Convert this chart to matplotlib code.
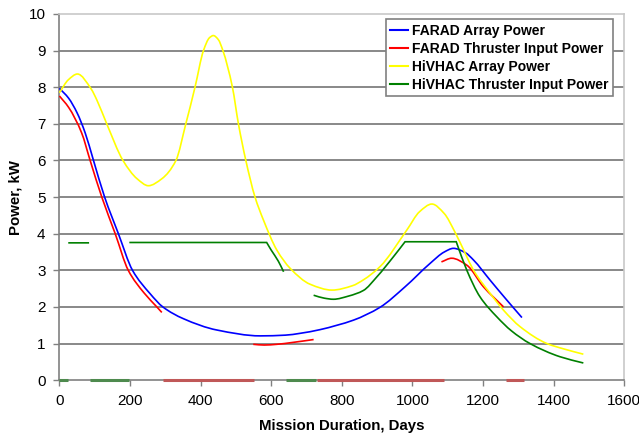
import numpy as np
import matplotlib
matplotlib.use('Agg')
from matplotlib import pyplot as plt
from matplotlib.path import Path
from matplotlib.patches import PathPatch
from matplotlib.lines import Line2D

plt.rcParams['font.family'] = ['Liberation Sans', 'DejaVu Sans']

nan = np.nan

# FARAD array power
farad_array_days = [0, 26, 50, 73, 95, 128, 167, 207, 257, 293, 351, 446, 569, 640,
                    682, 738, 786, 833, 908, 979, 1050, 1090, 1116, 1150, 1173,
                    1220, 1267, 1310]
farad_array_kw = [7.97, 7.7, 7.3, 6.75, 6.05, 5.0, 4.0, 3.0, 2.36, 2.0, 1.68, 1.37,
                  1.21, 1.23, 1.28, 1.38, 1.5, 1.64, 1.99, 2.55, 3.19, 3.5, 3.6,
                  3.48, 3.28, 2.73, 2.19, 1.71]

# FARAD thruster input power (gaps where the thruster is off)
farad_thr_days = [0, 26, 63, 87, 120, 158, 195, 240, 276, 290, nan,
                  549, 580, 616, 660, 720, nan,
                  1082, 1111, 1154, 1201, 1258]
farad_thr_kw = [7.76, 7.45, 6.75, 6.0, 5.0, 4.0, 3.0, 2.38, 2.0, 1.85, nan,
                0.98, 0.96, 0.98, 1.03, 1.11, nan,
                3.23, 3.33, 3.14, 2.55, 2.0]
farad_off = [(293, 552), (729, 1088), (1265, 1316)]

# HiVHAC array power
hivhac_array_days = [0, 25, 51, 90, 106, 134, 180, 220, 252, 290, 330, 358, 384,
                     408, 425, 436, 450, 463, 490, 507, 528, 554, 578, 616, 654,
                     710, 772, 830, 861, 908, 984, 1020, 1055, 1090, 1120, 1150,
                     1173, 1220, 1258, 1305, 1381, 1430, 1484]
hivhac_array_kw = [7.85, 8.2, 8.36, 7.95, 7.65, 7.0, 6.0, 5.5, 5.31, 5.5, 6.0,
                   7.0, 8.0, 9.0, 9.35, 9.41, 9.3, 9.0, 8.0, 7.0, 6.0, 5.0, 4.37,
                   3.55, 3.05, 2.62, 2.46, 2.58, 2.74, 3.1, 4.1, 4.6, 4.81, 4.55,
                   4.05, 3.45, 3.0, 2.37, 1.91, 1.46, 1.0, 0.85, 0.71]

# HiVHAC thruster input power (gaps where the thruster is off)
hivhac_thr_days = [25, 84, nan,
                   198, 587, 600, 620, 635, nan,
                   720, 750, 776, 820, 861, 899, 946, 979, 1124, 1154, 1191,
                   1239, 1280, 1333, 1418, 1484]
hivhac_thr_kw = [3.75, 3.75, nan,
                 3.76, 3.76, 3.55, 3.25, 2.96, nan,
                 2.32, 2.24, 2.21, 2.3, 2.45, 2.82, 3.37, 3.78, 3.78, 3.0, 2.28,
                 1.73, 1.35, 1.0, 0.64, 0.47]
hivhac_off = [(0, 25), (87, 197), (642, 727)]
# points where the throttle plateau ends abruptly
hivhac_corners = [587, 979, 1124]


def smooth_path(xs, ys, corners=()):
    """Monotone cubic (Fritsch-Carlson) curve through the points, as Bezier path.
    NaN splits the series into separate runs."""
    xs = np.asarray(xs, float)
    ys = np.asarray(ys, float)
    verts, codes = [], []
    breaks = np.where(np.isnan(xs))[0]
    starts = np.r_[0, breaks + 1]
    ends = np.r_[breaks, len(xs)]
    for s, e in zip(starts, ends):
        x, y = xs[s:e], ys[s:e]
        n = len(x)
        if n < 2:
            continue
        h = np.diff(x)
        d = np.diff(y) / h
        ml = np.zeros(n)
        mr = np.zeros(n)
        ml[0] = mr[0] = d[0]
        ml[-1] = mr[-1] = d[-1]
        for i in range(1, n - 1):
            if x[i] in corners:
                ml[i], mr[i] = d[i - 1], d[i]
                continue
            if d[i - 1] * d[i] <= 0:
                m = 0.0
            else:
                w1 = 2 * h[i] + h[i - 1]
                w2 = h[i] + 2 * h[i - 1]
                m = (w1 + w2) / (w1 / d[i - 1] + w2 / d[i])
            ml[i] = mr[i] = m
        verts.append((x[0], y[0]))
        codes.append(Path.MOVETO)
        for i in range(n - 1):
            verts += [(x[i] + h[i] / 3, y[i] + mr[i] * h[i] / 3),
                      (x[i + 1] - h[i] / 3, y[i + 1] - ml[i + 1] * h[i] / 3),
                      (x[i + 1], y[i + 1])]
            codes += [Path.CURVE4] * 3
    return Path(verts, codes)


fig = plt.figure(figsize=(6.39, 4.36), dpi=100)
ax = fig.add_axes([0.093, 0.128, 0.884, 0.84])

for y in range(1, 10):
    ax.axhline(y, color='#888888', lw=1.4, zorder=1)

lw = 1.2
series = [
    (farad_array_days, farad_array_kw, '#0000ff', 'FARAD Array Power', ()),
    (farad_thr_days, farad_thr_kw, '#ff0000', 'FARAD Thruster Input Power', ()),
    (hivhac_array_days, hivhac_array_kw, '#ffff00', 'HiVHAC Array Power', ()),
    (hivhac_thr_days, hivhac_thr_kw, '#008000', 'HiVHAC Thruster Input Power', hivhac_corners),
]
handles = []
for xs, ys, c, name, corners in series:
    ax.add_patch(PathPatch(smooth_path(xs, ys, corners), facecolor='none',
                           edgecolor=c, lw=lw, zorder=3))
    handles.append(Line2D([], [], color=c, lw=1.5, label=name))

# thruster-off periods sit on the zero line
for a, b in farad_off:
    ax.plot([a, b], [0, 0], color='#c05858', lw=2.2, zorder=4, clip_on=False, solid_capstyle='butt')
for a, b in hivhac_off:
    ax.plot([a, b], [0, 0], color='#4e8a4e', lw=2.2, zorder=4, clip_on=False, solid_capstyle='butt')

ax.set_xlim(0, 1600)
ax.set_ylim(0, 10)
ax.set_xticks(range(0, 1601, 200))
ax.set_yticks(range(0, 11))
ax.tick_params(labelsize=11, length=4, width=1, color='#808080', pad=6)

for side in ('top', 'right'):
    ax.spines[side].set_color('#c8c8c8')
    ax.spines[side].set_linewidth(1.2)
for side in ('left', 'bottom'):
    ax.spines[side].set_color('#808080')
    ax.spines[side].set_linewidth(1.2)

ax.set_xlabel('Mission Duration, Days', fontsize=10.8, fontweight='bold', labelpad=8)
ax.set_ylabel('Power, kW', fontsize=10.8, fontweight='bold', labelpad=4)

leg = ax.legend(handles=handles, loc='upper right', bbox_to_anchor=(0.98, 0.985),
                prop={'weight': 'bold', 'size': 10}, frameon=True, fancybox=False,
                handlelength=1.3, handletextpad=0.3, borderpad=0.3,
                labelspacing=0.3, borderaxespad=0)
leg.get_frame().set_edgecolor('#808080')
leg.get_frame().set_linewidth(1.2)
leg.get_frame().set_alpha(1)

fig.savefig('out.png', dpi=100)
